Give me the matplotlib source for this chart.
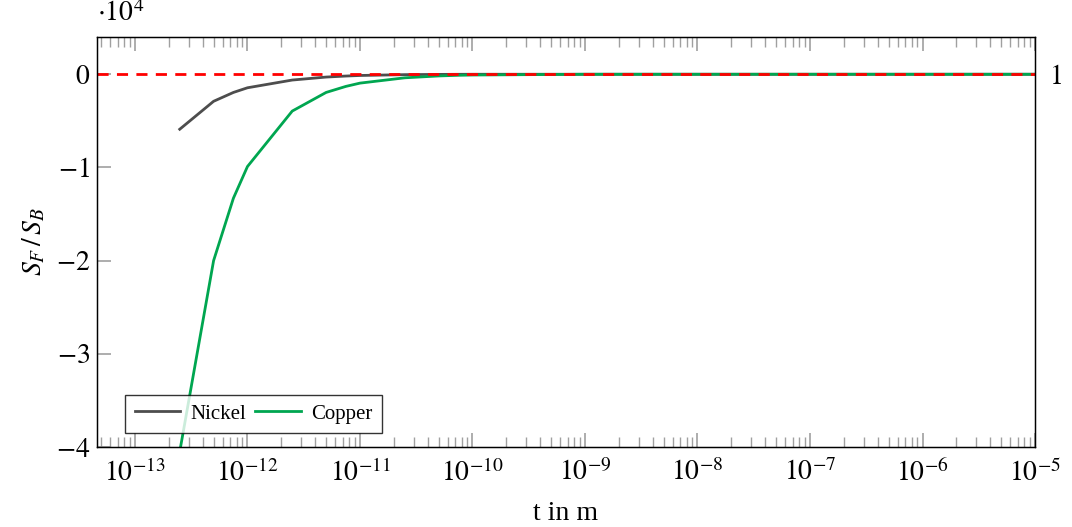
import numpy as np
import matplotlib
matplotlib.use('Agg')
import matplotlib.pyplot as plt
from matplotlib.ticker import FuncFormatter, LogLocator, NullFormatter

# thickness t in m
t_nickel = [2.5e-13, 5e-13, 7.5e-13, 1e-12, 2.5e-12, 5e-12, 7.5e-12, 1e-11, 2.5e-11,
            5e-11, 7.5e-11, 1e-10, 1e-9, 1e-8, 1e-7, 1e-6, 1e-5]
sf_nickel = [-5900, -2900, -1950, -1450, -620, -300, -190, -130, -40,
             -15, -5, 0, 1, 1, 1, 1, 1]

t_copper = [2.5e-13, 5e-13, 7.5e-13, 1e-12, 2.5e-12, 5e-12, 7.5e-12, 1e-11, 2.5e-11,
            5e-11, 7.5e-11, 1e-10, 1e-9, 1e-8, 1e-7, 1e-6, 1e-5]
sf_copper = [-40500, -20000, -13300, -9900, -3950, -1950, -1300, -950, -380,
             -180, -110, -80, 0, 1, 1, 1, 1]

x_ticks = [1e-13, 1e-12, 1e-11, 1e-10, 1e-9, 1e-8, 1e-7, 1e-6, 1e-5]
x_ticklabels = ['$10^{%d}$' % e for e in range(-13, -4)]
y_ticks = [-40000, -30000, -20000, -10000, 0]

ref_level = 1

lsize = 20
plt.rc('font', family='Liberation Serif')
plt.rc('mathtext', fontset='stix')

fig = plt.figure(figsize=(10.72, 5.27), dpi=100)
ax = fig.add_axes([0.0905, 0.1518, 0.875, 0.778])

ax.plot(t_nickel, sf_nickel, color='#4d4d4d', lw=2.0, label='Nickel')
ax.plot(t_copper, sf_copper, color='#00a650', lw=2.0, label='Copper')
ax.axhline(ref_level, color='#ff0000', lw=2.0, ls=(0, (4, 3)))

ax.set_xscale('log')
ax.set_xlim(4.6e-14, 1e-5)
ax.set_ylim(-40000, 4000)

ax.set_xticks(x_ticks)
ax.set_xticklabels(x_ticklabels)
ax.xaxis.set_minor_locator(LogLocator(base=10, subs=np.arange(2, 10), numticks=20))
ax.xaxis.set_minor_formatter(NullFormatter())
ax.set_yticks(y_ticks)
ax.yaxis.set_major_formatter(FuncFormatter(lambda v, p: '$%d$' % round(v / 1e4)))

ax.tick_params(axis='both', which='major', direction='in', length=10, width=1.2,
               color='#a0a0a0', labelsize=lsize, top=True, right=True, pad=5)
ax.tick_params(axis='x', which='major', pad=9)
ax.tick_params(axis='x', which='minor', direction='in', length=7, width=1.0,
               color='#a0a0a0', top=True)
for s in ax.spines.values():
  s.set_linewidth(1.0)

# extra tick label on the right side
ax2 = ax.twinx()
ax2.set_ylim(ax.get_ylim())
ax2.set_yticks([ref_level])
ax2.set_yticklabels(['$1$'])
ax2.tick_params(axis='y', length=0, labelsize=lsize, pad=10)

ax.text(0.0, 1.025, r'$\cdot 10^4$', transform=ax.transAxes, fontsize=lsize,
        ha='left', va='bottom')
ax.set_xlabel('t in m', fontsize=lsize, labelpad=10)
ax.set_ylabel('$S_F\\,/\\,S_B$', fontsize=lsize, labelpad=6)

leg = ax.legend(loc='lower left', ncol=2, fontsize=15, frameon=True, fancybox=False,
                edgecolor='black', bbox_to_anchor=(0.03, 0.034), borderaxespad=0,
                handlelength=2.2, columnspacing=0.4, handletextpad=0.5, borderpad=0.45)
leg.get_frame().set_linewidth(1.0)

fig.savefig('out.png', dpi=100)
